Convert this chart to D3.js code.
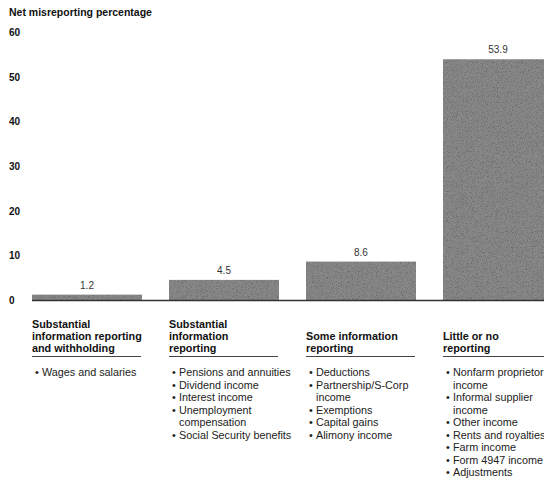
<!DOCTYPE html>
<html>
<head>
<meta charset="utf-8">
<script src="https://cdn.jsdelivr.net/npm/d3@7"></script>
<style>
  body { margin: 0; background: #fff; }
  svg { display: block; font-family: "Liberation Sans", Arial, sans-serif; }
</style>
</head>
<body>
<div id="chart"></div>
<script>
// data
var categories = [
    "Substantial information reporting and withholding",
    "Substantial information reporting",
    "Some information reporting",
    "Little or no reporting"
];
var values = [1.2, 4.5, 8.6, 53.9];
var yTicks = [0, 10, 20, 30, 40, 50, 60];

// header lines for each column
var headers = [
    ["Substantial", "information reporting", "and withholding"],
    ["Substantial", "information", "reporting"],
    ["Some information", "reporting"],
    ["Little or no", "reporting"]
];

// bullet items (each item can wrap over several lines)
var items = [
    [["Wages and salaries"]],
    [["Pensions and annuities"], ["Dividend income"], ["Interest income"],
     ["Unemployment", "compensation"], ["Social Security benefits"]],
    [["Deductions"], ["Partnership/S-Corp", "income"], ["Exemptions"],
     ["Capital gains"], ["Alimony income"]],
    [["Nonfarm proprietor", "income"], ["Informal supplier", "income"],
     ["Other income"], ["Rents and royalties"], ["Farm income"],
     ["Form 4947 income"], ["Adjustments"]]
];

var svgWidth = 544;
var svgHeight = 483;

var svg = d3.select("#chart")
    .append("svg")
    .attr("width", svgWidth)
    .attr("height", svgHeight);

// speckled grey fill, like the scanned print
var defs = svg.append("defs");
var f = defs.append("filter").attr("id", "grain")
    .attr("x", 0).attr("y", 0).attr("width", 1).attr("height", 1);
f.append("feTurbulence")
    .attr("type", "fractalNoise")
    .attr("baseFrequency", 1.2)
    .attr("numOctaves", 1)
    .attr("seed", 3)
    .attr("result", "noise");
f.append("feColorMatrix")
    .attr("in", "noise")
    .attr("type", "matrix")
    .attr("values", "0 0 0 0 0  0 0 0 0 0  0 0 0 0 0  0 0 0 -1.4 0.75")
    .attr("result", "dots");
f.append("feComposite")
    .attr("in", "dots")
    .attr("in2", "SourceGraphic")
    .attr("operator", "atop");

var xScale = d3.scaleBand()
    .domain(categories)
    .range([32, 553])
    .paddingInner(0.197)
    .paddingOuter(0);

var yScale = d3.scaleLinear()
    .domain([0, 60])
    .range([300, 32]);

// title
svg.append("text")
    .attr("x", 9)
    .attr("y", 16)
    .attr("font-size", "10.5px")
    .attr("font-weight", "bold")
    .attr("fill", "#111")
    .text("Net misreporting percentage");

// y axis labels only (no line / ticks)
var yAxis = d3.axisLeft(yScale)
    .tickValues(yTicks)
    .tickSize(0)
    .tickPadding(0);

var yg = svg.append("g")
    .attr("transform", "translate(9,0)")
    .call(yAxis);
yg.select(".domain").remove();
yg.selectAll("text")
    .attr("text-anchor", "start")
    .attr("x", 0)
    .attr("dy", "0.35em")
    .attr("font-size", "10px")
    .attr("font-weight", "bold")
    .attr("font-family", "Liberation Sans, Arial, sans-serif")
    .attr("fill", "#111");

// bars
svg.selectAll("rect.bar")
    .data(values)
    .enter()
    .append("rect")
    .attr("class", "bar")
    .attr("x", (d, i) => xScale(categories[i]))
    .attr("y", d => yScale(d))
    .attr("width", xScale.bandwidth())
    .attr("height", d => yScale(0) - yScale(d))
    .attr("fill", "#888")
    .attr("filter", "url(#grain)");

// baseline
svg.append("line")
    .attr("x1", xScale(categories[0]))
    .attr("x2", svgWidth)
    .attr("y1", yScale(0) + 0.5)
    .attr("y2", yScale(0) + 0.5)
    .attr("stroke", "#333")
    .attr("stroke-width", 1.6);

// value labels
svg.selectAll("text.val")
    .data(values)
    .enter()
    .append("text")
    .attr("class", "val")
    .attr("x", (d, i) => xScale(categories[i]) + xScale.bandwidth() / 2)
    .attr("y", d => yScale(d) - 6)
    .attr("text-anchor", "middle")
    .attr("font-size", "10px")
    .attr("fill", "#333")
    .text(d => d);

// column headers, underline and bullet lists
var lineH = 12;
var underlineY = 356;

categories.forEach(function (c, i) {
    var x0 = xScale(c);
    var hdr = headers[i];
    hdr.forEach(function (t, j) {
        svg.append("text")
            .attr("x", x0)
            .attr("y", underlineY - 4 - (hdr.length - 1 - j) * lineH)
            .attr("font-size", "10.8px")
            .attr("font-weight", "bold")
            .attr("fill", "#111")
            .text(t);
    });

    svg.append("line")
        .attr("x1", x0)
        .attr("x2", Math.min(x0 + xScale.bandwidth() - 1, svgWidth))
        .attr("y1", underlineY + 0.5)
        .attr("y2", underlineY + 0.5)
        .attr("stroke", "#444")
        .attr("stroke-width", 1);

    var y = 376;
    items[i].forEach(function (it) {
        svg.append("text")
            .attr("x", x0 + 3)
            .attr("y", y)
            .attr("font-size", "10.8px")
            .attr("fill", "#222")
            .text("\u2022");
        it.forEach(function (t) {
            svg.append("text")
                .attr("x", x0 + 10)
                .attr("y", y)
                .attr("font-size", "10.8px")
                .attr("fill", "#222")
                .text(t);
            y += 12.5;
        });
    });
});
</script>
</body>
</html>
